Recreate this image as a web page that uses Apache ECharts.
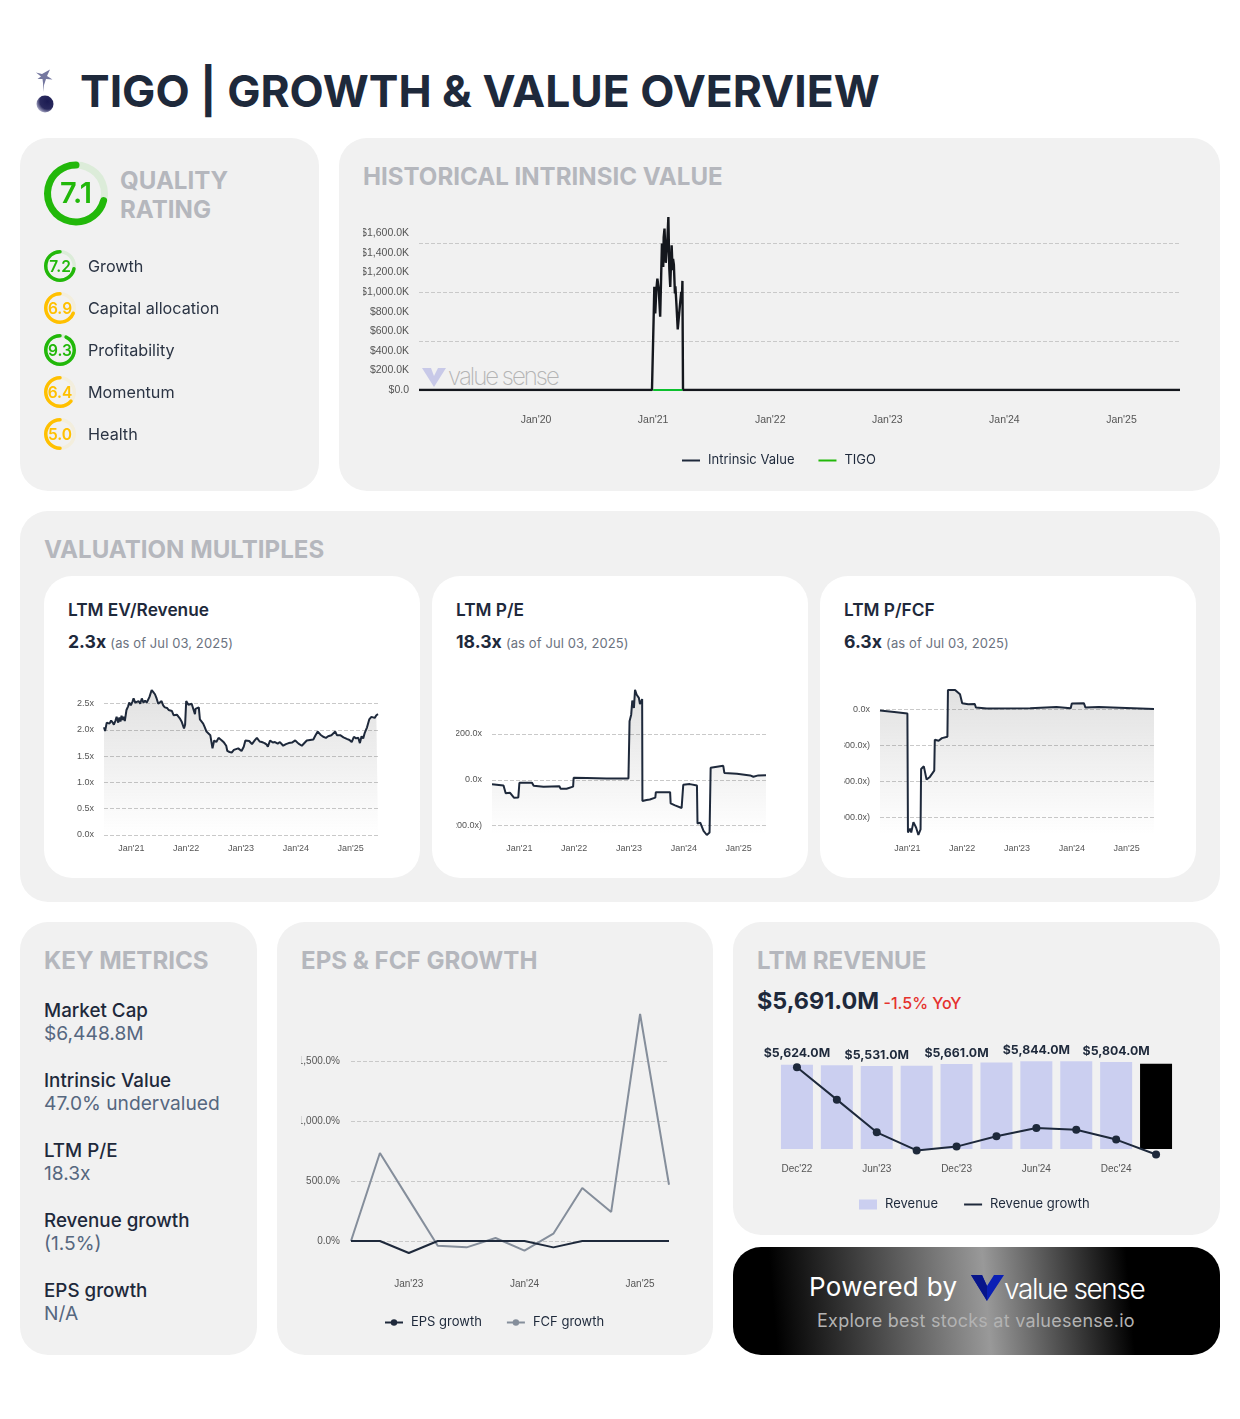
<!DOCTYPE html>
<html>
<head>
<meta charset="utf-8">
<title>TIGO | Growth & Value Overview</title>
<script src="https://cdn.jsdelivr.net/npm/echarts@6/dist/echarts.min.js"></script>
<style>
  html, body { margin: 0; padding: 0; background: #fff; }
  body { width: 1240px; height: 1419px; position: relative; overflow: hidden; font-family: Inter, sans-serif; color: #1e293b; }
  .abs, .card, .white, .chart, .txt { position: absolute; }
  .card { background: #f1f1f1; border-radius: 28px; }
  .white { background: #fff; border-radius: 28px; top: 576px; width: 376px; height: 302px; }
  .head { position: absolute; font-size: 24.1px; line-height: 30px; font-weight: 700; color: #b5b7bd; white-space: nowrap; }
  .txt { white-space: nowrap; }
  .mult-name { font-size: 17.3px; font-weight: 600; line-height: 22px; }
  .mult-val { font-size: 17.6px; font-weight: 700; line-height: 22px; }
  .mult-val span { font-size: 13px; font-weight: 400; color: #6b7280; letter-spacing: 0.1px; }
  .kname { font-size: 18.8px; font-weight: 500; line-height: 24px; left: 44px; }
  .kval { font-size: 19.2px; font-weight: 400; line-height: 24px; left: 44px; color: #56677f; }
</style>
</head>
<body>
<!-- header -->
<svg class="abs" style="left:30px;top:66px" width="28" height="50" viewBox="0 0 28 50">
  <defs><radialGradient id="ball" cx="65%" cy="35%" r="75%"><stop offset="0" stop-color="#1b1b52"/><stop offset="0.6" stop-color="#2a2a5e"/><stop offset="1" stop-color="#c5c5dd"/></radialGradient></defs>
  <path d="M6 6.5L12 8L20 3.5L17 10L22.5 13.5L16 13L14 19L13.5 26L13 17L12.5 13L7.5 13L11 10.5Z" fill="#74779f"/>
  <circle cx="15" cy="38" r="8.5" fill="url(#ball)"/>
</svg>
<div class="txt" style="left:80px;top:63px;font-size:44.4px;line-height:56px;font-weight:700;">TIGO | GROWTH &amp; VALUE OVERVIEW</div>

<!-- cards -->
<div class="card" style="left:20px;top:138px;width:299px;height:353px"></div>
<div class="card" style="left:339px;top:138px;width:881px;height:353px"></div>
<div class="card" style="left:20px;top:511px;width:1200px;height:391px"></div>
<div class="card" style="left:20px;top:922px;width:237px;height:433px"></div>
<div class="card" style="left:277px;top:922px;width:436px;height:433px"></div>
<div class="card" style="left:733px;top:922px;width:487px;height:313px"></div>
<div class="abs" style="left:733px;top:1247px;width:487px;height:108px;border-radius:28px;background:linear-gradient(85deg,#000 9%,#999 52%,#000 81%)"></div>

<div class="head" style="left:120px;top:166px">QUALITY</div>
<div class="head" style="left:120px;top:195px">RATING</div>
<div class="head" style="left:363px;top:162px">HISTORICAL INTRINSIC VALUE</div>
<div class="head" style="left:44px;top:535px">VALUATION MULTIPLES</div>
<div class="head" style="left:44px;top:946px">KEY METRICS</div>
<div class="head" style="left:301px;top:946px">EPS &amp; FCF GROWTH</div>
<div class="head" style="left:757px;top:946px">LTM REVENUE</div>

<div class="white" style="left:44px"></div>
<div class="white" style="left:432px"></div>
<div class="white" style="left:820px"></div>

<div class="txt mult-name" style="left:68px;top:599px">LTM EV/Revenue</div>
<div class="txt mult-val" style="left:68px;top:631px">2.3x <span>(as of Jul 03, 2025)</span></div>
<div class="txt mult-name" style="left:456px;top:599px">LTM P/E</div>
<div class="txt mult-val" style="left:456px;top:631px">18.3x <span>(as of Jul 03, 2025)</span></div>
<div class="txt mult-name" style="left:844px;top:599px">LTM P/FCF</div>
<div class="txt mult-val" style="left:844px;top:631px">6.3x <span>(as of Jul 03, 2025)</span></div>

<div class="txt kname" style="top:999px">Market Cap</div><div class="txt kval" style="top:1021px">$6,448.8M</div>
<div class="txt kname" style="top:1069px">Intrinsic Value</div><div class="txt kval" style="top:1091px">47.0% undervalued</div>
<div class="txt kname" style="top:1139px">LTM P/E</div><div class="txt kval" style="top:1161px">18.3x</div>
<div class="txt kname" style="top:1209px">Revenue growth</div><div class="txt kval" style="top:1231px">(1.5%)</div>
<div class="txt kname" style="top:1279px">EPS growth</div><div class="txt kval" style="top:1301px">N/A</div>

<div class="txt" style="left:757px;top:986px;font-size:23.4px;line-height:30px;font-weight:700">$5,691.0M <span style="font-size:16px;font-weight:500;color:#e5322d;margin-left:-1px">-1.5% YoY</span></div>

<div class="txt" style="left:809px;top:1270px;font-size:26px;line-height:34px;color:#fff;letter-spacing:0.3px">Powered by</div>
<svg class="abs" style="left:970px;top:1274px" width="36" height="28" viewBox="0 0 36 28">
  <path d="M1 1H12L17 12L24 1H34L17 27Z" fill="#0a1fb5"/><path d="M1 1H12L17 12L17 27Z" fill="#08158a"/>
</svg>
<div class="txt" style="left:1004px;top:1272px;font-size:28px;line-height:34px;color:#fff;font-weight:300;letter-spacing:-1.4px">value sense</div>
<div class="txt" style="left:817px;top:1309px;font-size:18px;line-height:24px;color:#b3b3b3;letter-spacing:0.24px">Explore best stocks at valuesense.io</div>

<!-- watermark behind the intrinsic value line -->
<svg class="abs" style="left:420px;top:366px" width="28" height="23" viewBox="0 0 28 23">
  <path d="M2 2H11L14 10L18 2H26L14 21Z" fill="#c8c9e8"/>
</svg>
<div class="txt" style="left:448px;top:361px;font-size:24px;line-height:32px;font-weight:200;letter-spacing:-2px;color:#b4b4b4">value sense</div>

<!-- charts -->
<div class="chart" id="ratings" style="left:20px;top:138px;width:299px;height:353px"></div>
<div class="chart" id="intrinsic" style="left:363px;top:200px;width:833px;height:280px"></div>
<div class="chart" id="evrev" style="left:68px;top:670px;width:328px;height:190px"></div>
<div class="chart" id="pe" style="left:456px;top:670px;width:328px;height:190px"></div>
<div class="chart" id="pfcf" style="left:844px;top:670px;width:328px;height:190px"></div>
<div class="chart" id="growth" style="left:301px;top:995px;width:388px;height:345px"></div>
<div class="chart" id="revenue" style="left:757px;top:1035px;width:439px;height:185px"></div>

<script>
var ratingNames = ['Growth', 'Capital allocation', 'Profitability', 'Momentum', 'Health'];
var ratingValues = [7.2, 6.9, 9.3, 6.4, 5.0];
var overallRating = 7.1;

var yearTicks = [2021, 2022, 2023, 2024, 2025];

// intrinsic value, x in years
var intrinsicYears = [2019.0, 2020.99, 2021.0, 2021.005, 2021.01, 2021.018, 2021.027, 2021.036, 2021.047, 2021.06, 2021.063, 2021.075, 2021.086, 2021.09, 2021.097, 2021.108, 2021.12, 2021.13, 2021.138, 2021.146, 2021.15, 2021.158, 2021.166, 2021.17, 2021.177, 2021.186, 2021.19, 2021.2, 2021.21, 2021.222, 2021.23, 2021.24, 2021.245, 2021.25, 2021.255, 2025.5];
var intrinsicValues = [0, 0, 0, 780, 1054, 782, 1020, 1139, 1037, 748, 900, 1496, 1258, 1560, 1649, 1300, 1500, 1768, 1240, 1054, 1200, 1479, 1224, 1340, 1280, 986, 1060, 850, 619, 629, 884, 1003, 900, 1115, 0, 0];
var tigoYears = [2021.0, 2021.25];
var tigoValues = [0, 0];
var intrinsicLabels = [0, 200, 400, 600, 800, 1000, 1200, 1400, 1600];
var intrinsicGrid = [0, 500, 1000, 1500];

var evYears = [2020.50, 2020.52, 2020.55, 2020.58, 2020.60, 2020.63, 2020.66, 2020.68, 2020.71, 2020.73, 2020.76, 2020.78, 2020.80, 2020.82, 2020.84, 2020.86, 2020.88, 2020.91, 2020.94, 2020.96, 2020.99, 2021.02, 2021.04, 2021.07, 2021.10, 2021.13, 2021.16, 2021.19, 2021.22, 2021.25, 2021.28, 2021.31, 2021.33, 2021.37, 2021.40, 2021.43, 2021.46, 2021.49, 2021.52, 2021.55, 2021.58, 2021.61, 2021.65, 2021.68, 2021.71, 2021.74, 2021.77, 2021.80, 2021.83, 2021.86, 2021.89, 2021.92, 2021.96, 2021.98, 2022.0, 2022.02, 2022.04, 2022.07, 2022.10, 2022.13, 2022.16, 2022.17, 2022.20, 2022.23, 2022.25, 2022.28, 2022.31, 2022.34, 2022.37, 2022.40, 2022.44, 2022.47, 2022.48, 2022.51, 2022.55, 2022.59, 2022.62, 2022.65, 2022.69, 2022.73, 2022.75, 2022.79, 2022.83, 2022.87, 2022.90, 2022.95, 2023.01, 2023.05, 2023.08, 2023.10, 2023.15, 2023.20, 2023.25, 2023.29, 2023.34, 2023.38, 2023.43, 2023.47, 2023.49, 2023.53, 2023.58, 2023.62, 2023.67, 2023.71, 2023.77, 2023.82, 2023.87, 2023.93, 2023.99, 2024.05, 2024.11, 2024.14, 2024.20, 2024.26, 2024.32, 2024.36, 2024.40, 2024.45, 2024.50, 2024.55, 2024.59, 2024.65, 2024.72, 2024.75, 2024.81, 2024.87, 2024.93, 2024.98, 2025.02, 2025.06, 2025.10, 2025.14, 2025.17, 2025.20, 2025.23, 2025.26, 2025.30, 2025.34, 2025.38, 2025.41, 2025.44, 2025.47, 2025.50];
var evValues = [2.05, 1.98, 2.14, 2.17, 2.12, 2.18, 2.14, 2.10, 2.18, 2.25, 2.14, 2.24, 2.16, 2.27, 2.19, 2.25, 2.17, 2.38, 2.45, 2.52, 2.47, 2.54, 2.60, 2.52, 2.50, 2.55, 2.50, 2.60, 2.52, 2.56, 2.52, 2.50, 2.63, 2.76, 2.72, 2.68, 2.60, 2.50, 2.53, 2.55, 2.47, 2.43, 2.42, 2.38, 2.35, 2.36, 2.28, 2.31, 2.29, 2.30, 2.21, 2.15, 2.03, 2.10, 2.55, 2.52, 2.48, 2.51, 2.50, 2.40, 2.30, 2.40, 2.42, 2.43, 2.20, 2.18, 2.12, 2.05, 1.97, 1.95, 1.90, 1.87, 1.65, 1.80, 1.77, 1.85, 1.84, 1.80, 1.76, 1.70, 1.60, 1.58, 1.57, 1.62, 1.65, 1.65, 1.60, 1.68, 1.80, 1.77, 1.79, 1.73, 1.80, 1.85, 1.78, 1.77, 1.75, 1.72, 1.68, 1.80, 1.76, 1.77, 1.74, 1.77, 1.70, 1.73, 1.75, 1.76, 1.80, 1.74, 1.70, 1.70, 1.80, 1.81, 1.82, 1.90, 1.97, 1.91, 1.87, 1.85, 1.88, 1.90, 1.97, 1.90, 1.90, 1.86, 1.83, 1.81, 1.77, 1.87, 1.84, 1.85, 1.75, 1.88, 1.84, 1.95, 2.05, 2.20, 2.25, 2.27, 2.23, 2.28, 2.30];
var evLabels = [0, 0.5, 1, 1.5, 2, 2.5];

var peYears = [2020.50, 2020.71, 2020.75, 2020.83, 2020.90, 2020.98, 2021.0, 2021.23, 2021.26, 2021.44, 2021.73, 2021.75, 2021.86, 2021.98, 2021.99, 2022.23, 2022.59, 2022.99, 2023.01, 2023.04, 2023.06, 2023.09, 2023.11, 2023.14, 2023.18, 2023.20, 2023.24, 2023.245, 2023.27, 2023.32, 2023.38, 2023.48, 2023.49, 2023.75, 2023.76, 2023.84, 2023.96, 2023.99, 2024.11, 2024.24, 2024.25, 2024.30, 2024.36, 2024.42, 2024.47, 2024.49, 2024.72, 2024.74, 2024.97, 2025.0, 2025.21, 2025.27, 2025.36, 2025.50];
var peValues = [-20, -25, -59, -57, -78, -77, -13, -13, -26, -30, -28, -39, -39, -30, 9, 8, 6, 6, 255, 284, 346, 313, 393, 371, 357, 330, 352, -93, -100, -88, -86, -78, -54, -54, -103, -112, -123, -22, -19, -25, -191, -187, -223, -241, -230, 52, 61, 30, 26, 19, 19, 13, 19, 20];
var peLabels = [-200, 0, 200];

var fcfYears = [2020.50, 2020.76, 2021.0, 2021.01, 2021.05, 2021.07, 2021.11, 2021.16, 2021.20, 2021.24, 2021.25, 2021.30, 2021.35, 2021.41, 2021.49, 2021.50, 2021.57, 2021.63, 2021.73, 2021.74, 2021.87, 2021.96, 2022.0, 2022.11, 2022.23, 2022.25, 2022.45, 2023.24, 2023.25, 2023.72, 2023.74, 2023.98, 2024.0, 2024.22, 2024.25, 2024.49, 2024.5, 2025.5];
var fcfValues = [-11, -22, -36, -1024, -991, -1024, -937, -984, -1044, -998, -496, -474, -584, -562, -510, -254, -262, -240, -229, 160, 160, 124, 50, 41, 44, 14, 6, 8, 22, 19, 8, 8, 47, 50, 14, 19, 6, 3];
var fcfLabels = [-900, -600, -300, 0];

var growthDates = ["Jul'22", "Oct'22", "Jan'23", "Apr'23", "Jul'23", "Oct'23", "Jan'24", "Apr'24", "Jul'24", "Oct'24", "Jan'25", "Apr'25"];
var epsGrowth = [0, 0, -100, 0, 0, 0, 0, -53, 0, 0, 0, 0];
var fcfGrowth = [0, 733, 347, -39, -53, 25, -80, 61, 442, 242, 1892, 469];
var growthLabels = [0, 500, 1000, 1500];

var revenueDates = ["Dec'22", "Mar'23", "Jun'23", "Sep'23", "Dec'23", "Mar'24", "Jun'24", "Sep'24", "Dec'24", "Mar'25"];
var revenueValues = [5624, 5590, 5531, 5550, 5661, 5760, 5844, 5850, 5804, 5691];
var revenueGrowth = [22.5, 13.6, 4.6, -0.4, 0.66, 3.5, 5.8, 5.3, 2.6, -1.5];

var NAVY = '#1e293b';
var AXIS_TEXT = '#555';
var SANS = '"Liberation Sans", Arial, sans-serif';
var DASH = { color: '#c9c9c9', type: 'dashed', width: 1 };
var LINE_ICON = 'path://M0 4H18V6H0Z';
var LEGEND_TEXT = { fontFamily: 'Inter', fontSize: 13, color: NAVY, padding: [0, 0, 0, 3] };

function pairs(xs, ys) {
  return xs.map(function (x, i) { return [x, ys[i]]; });
}

function money(v) {
  if (v === 0) return '$0.0';
  return '$' + v.toLocaleString('en-US', { minimumFractionDigits: 1 }) + 'K';
}

function multiple(v) {
  var s = Math.abs(v).toFixed(1) + 'x';
  return v < 0 ? '(' + s + ')' : s;
}

function janLabel(v) {
  return "Jan'" + String(v).slice(2);
}

// ---- rating rings
var ratingChart = echarts.init(document.getElementById('ratings'));

function ring(value, cx, cy, outer, width, size, color, track) {
  return {
    type: 'gauge',
    center: [cx, cy],
    radius: outer,
    startAngle: 90,
    endAngle: 450,
    clockwise: false,
    min: 0,
    max: 10,
    pointer: { show: false },
    axisTick: { show: false },
    splitLine: { show: false },
    axisLabel: { show: false },
    axisLine: { roundCap: true, lineStyle: { width: width, color: [[1, track]] } },
    progress: { show: true, roundCap: true, width: width, itemStyle: { color: color } },
    title: { show: false },
    detail: {
      offsetCenter: [0, 1],
      formatter: function (v) { return v.toFixed(1); },
      color: color,
      fontFamily: 'Inter',
      fontSize: size,
      fontWeight: 600
    },
    data: [{ value: value }]
  };
}

var ringSeries = [ring(overallRating, 56, 55.5, 32, 7, 29, '#22b80a', '#dcecd9')];
ratingValues.forEach(function (v, i) {
  var good = v >= 7;
  ringSeries.push(ring(v, 40, 128 + i * 42, 16, 3.5, 15.5, good ? '#22b80a' : '#ffc000', good ? '#dcecd9' : '#f3eedd'));
});

ratingChart.setOption({
  animation: false,
  graphic: ratingNames.map(function (name, i) {
    return {
      type: 'text',
      left: 68,
      top: 121 + i * 42,
      style: { text: name, font: '400 16.2px Inter', fill: '#2b3444' }
    };
  }),
  series: ringSeries
});

// ---- historical intrinsic value
var intrinsicChart = echarts.init(document.getElementById('intrinsic'));
intrinsicChart.setOption({
  animation: false,
  legend: {
    bottom: 8,
    left: 314,
    itemWidth: 18,
    itemHeight: 10,
    itemGap: 24,
    icon: LINE_ICON,
    textStyle: LEGEND_TEXT,
    data: ['Intrinsic Value', 'TIGO']
  },
  grid: { left: 56, right: 16, top: 17, bottom: 90, outerBoundsMode: 'none' },
  xAxis: {
    type: 'value',
    min: 2019,
    max: 2025.5,
    splitLine: { show: false },
    axisLine: { show: false },
    axisTick: { show: false },
    axisLabel: {
      customValues: [2020].concat(yearTicks),
      formatter: janLabel,
      margin: 25,
      fontFamily: SANS,
      fontSize: 10.5,
      color: AXIS_TEXT
    }
  },
  yAxis: {
    type: 'value',
    min: 0,
    max: 1768,
    axisLine: { show: false },
    axisTick: { show: false, customValues: intrinsicGrid },
    splitLine: { lineStyle: DASH },
    axisLabel: {
      customValues: intrinsicLabels,
      formatter: money,
      margin: 10,
      fontFamily: SANS,
      fontSize: 10.5,
      color: AXIS_TEXT
    }
  },
  series: [
    { name: 'TIGO', type: 'line', data: pairs(tigoYears, tigoValues), showSymbol: false, z: 3, lineStyle: { color: '#0cc02e', width: 2 }, itemStyle: { color: '#22b80a' } },
    { name: 'Intrinsic Value', type: 'line', data: pairs(intrinsicYears, intrinsicValues), showSymbol: false, z: 2, lineStyle: { color: '#14171d', width: 2.4 }, itemStyle: { color: NAVY } }
  ]
});

// ---- valuation multiples
function multipleChart(id, years, values, labels, min, max) {
  var chart = echarts.init(document.getElementById(id));
  chart.setOption({
    animation: false,
    grid: { left: 36, right: 18, top: 19, bottom: 25, outerBoundsMode: 'none' },
    xAxis: {
      type: 'value',
      min: 2020.5,
      max: 2025.5,
      splitLine: { show: false },
      axisLine: { show: false },
      axisTick: { show: false },
      axisLabel: {
        customValues: yearTicks,
        formatter: janLabel,
        margin: 9,
        fontFamily: SANS,
        fontSize: 9,
        color: AXIS_TEXT
      }
    },
    yAxis: {
      type: 'value',
      min: min,
      max: max,
      axisLine: { show: false },
      axisTick: { show: false, customValues: labels },
      splitLine: { lineStyle: DASH },
      axisLabel: {
        customValues: labels,
        formatter: multiple,
        margin: 10,
        fontFamily: SANS,
        fontSize: 9,
        color: AXIS_TEXT
      }
    },
    series: [{
      type: 'line',
      data: pairs(years, values),
      showSymbol: false,
      lineStyle: { color: NAVY, width: 2 },
      areaStyle: {
        origin: 'start',
        color: new echarts.graphic.LinearGradient(0, 0, 0, 1, [
          { offset: 0, color: 'rgba(90,90,90,0.26)' },
          { offset: 1, color: 'rgba(90,90,90,0)' }
        ])
      }
    }]
  });
}

multipleChart('evrev', evYears, evValues, evLabels, 0, 2.78);
multipleChart('pe', peYears, peValues, peLabels, -241, 396);
multipleChart('pfcf', fcfYears, fcfValues, fcfLabels, -1044, 168);

// ---- EPS & FCF growth
var growthChart = echarts.init(document.getElementById('growth'));
growthChart.setOption({
  animation: false,
  legend: {
    bottom: 6,
    left: 78,
    itemWidth: 18,
    itemHeight: 8,
    itemGap: 24,
    textStyle: LEGEND_TEXT,
    data: ['EPS growth', 'FCF growth']
  },
  grid: { left: 50, right: 20, top: 19, bottom: 87, outerBoundsMode: 'none' },
  xAxis: {
    type: 'category',
    boundaryGap: false,
    data: growthDates,
    axisLine: { show: false },
    axisTick: { show: false },
    axisLabel: {
      interval: function (i) { return i % 4 === 2; },
      margin: 26,
      fontFamily: SANS,
      fontSize: 10,
      color: AXIS_TEXT
    }
  },
  yAxis: {
    type: 'value',
    min: -100,
    max: 1892,
    axisLine: { show: false },
    axisTick: { show: false, customValues: growthLabels },
    splitLine: { lineStyle: DASH },
    axisLabel: {
      customValues: growthLabels,
      formatter: function (v) { return v.toLocaleString('en-US', { minimumFractionDigits: 1 }) + '%'; },
      margin: 11,
      fontFamily: SANS,
      fontSize: 10,
      color: AXIS_TEXT
    }
  },
  series: [
    { name: 'FCF growth', type: 'line', data: fcfGrowth, showSymbol: false, symbol: 'circle', symbolSize: 7, z: 2, lineStyle: { color: '#858e9b', width: 2 }, itemStyle: { color: '#858e9b' } },
    { name: 'EPS growth', type: 'line', data: epsGrowth, showSymbol: false, symbol: 'circle', symbolSize: 7, z: 3, lineStyle: { color: NAVY, width: 2 }, itemStyle: { color: NAVY } }
  ]
});

// ---- LTM revenue
var revenueChart = echarts.init(document.getElementById('revenue'));
revenueChart.setOption({
  animation: false,
  legend: {
    bottom: 4,
    left: 97,
    itemWidth: 18,
    itemHeight: 10,
    itemGap: 26,
    textStyle: LEGEND_TEXT,
    data: [{ name: 'Revenue', icon: 'rect' }, { name: 'Revenue growth', icon: LINE_ICON }]
  },
  grid: { left: 20, right: 20, top: 24, bottom: 61, outerBoundsMode: 'none' },
  xAxis: {
    type: 'category',
    data: revenueDates,
    axisLine: { show: false },
    axisTick: { show: false },
    axisLabel: {
      interval: 1,
      margin: 5,
      fontFamily: SANS,
      fontSize: 10,
      color: AXIS_TEXT
    }
  },
  yAxis: [
    { type: 'value', show: false, min: -667, max: 6000, splitLine: { show: false } },
    { type: 'value', show: false, min: -2.755, max: 24.8, splitLine: { show: false } }
  ],
  series: [
    {
      name: 'Revenue',
      type: 'bar',
      data: revenueValues.map(function (v, i) {
        return i === revenueValues.length - 1 ? { value: v, itemStyle: { color: '#000' }, label: { show: false } } : v;
      }),
      barWidth: 32,
      itemStyle: { color: '#cbcff0' },
      label: {
        show: true,
        position: 'top',
        distance: 5,
        fontFamily: 'Inter',
        fontSize: 12.3,
        fontWeight: 700,
        color: NAVY,
        formatter: function (p) {
          return p.dataIndex % 2 === 0 ? '$' + p.value.toLocaleString('en-US', { minimumFractionDigits: 1 }) + 'M' : '';
        }
      }
    },
    {
      name: 'Revenue growth',
      type: 'line',
      yAxisIndex: 1,
      data: revenueGrowth,
      symbol: 'circle',
      symbolSize: 8,
      lineStyle: { color: NAVY, width: 2 },
      itemStyle: { color: NAVY }
    }
  ]
});
</script>
</body>
</html>
